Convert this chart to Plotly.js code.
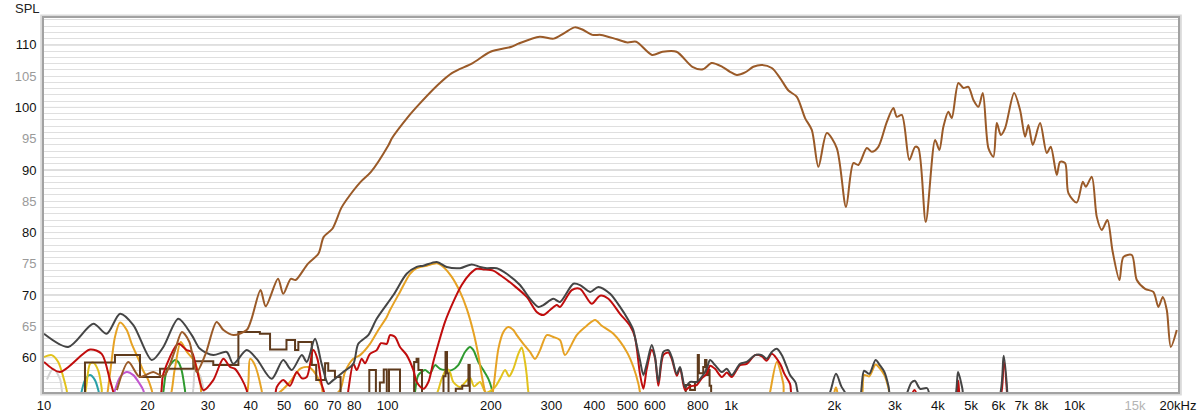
<!DOCTYPE html>
<html>
<head>
<meta charset="utf-8">
<script src="https://cdn.plot.ly/plotly-3.0.1.min.js"></script>
<style>html,body{margin:0;padding:0;background:#fff;}#chart{width:1200px;height:417px;}</style>
</head>
<body>
<div id="chart"></div>
<script>
// ---- data (frequency in Hz, level in dB SPL) ----
const brownF = [16.3,17.6,19.0,20.8,22.3,24.0,25.2,26.5,27.8,29.5,31.8,33.3,35.6,38.9,40.2,42.7,44.2,48.0,49.7,52.3,54.0,58.6,62.9,65.2,69.1,73.3,75.9,83.5,89.5,100.7,103.1,116,121.6,140,153.9,177,199.4,229.6,240.6,277.2,304.6,326.9,350.8,367.6,394.8,418.4,465.1,499.4,529.7,588.8,631.8,694,771.6,828.3,877.9,942.8,993,1039,1099,1161,1229,1314,1389,1469,1554,1642,1718,1796,1900,2031,2161,2270,2348,2484,2569,2684,2841,2969,3037,3141,3304,3433,3510,3688,3926,4040,4150,4291,4390,4589,4746,4907,5075,5248,5405,5612,5803,5937,6099,6277,6667,6939,7177,7337,7556,7935,8299,8524,8875,9074,9384,9594,10148,10566,10780,11222,11603,11999,12460,12900,13508,13873,14674,15175,16041,16958,17538,18063,18553,19058,19837];
const brownDb = [54.8,59.3,56.9,57.7,57.0,61.0,64.1,62.5,57.7,60.5,65.7,64.4,63.6,64.4,66.2,70.8,68.2,72.6,70.2,72.6,72.4,75.0,76.6,79.3,80.6,83.9,85.2,88.1,89.7,94.0,95.1,98.8,100.1,103.6,105.5,107.1,108.9,109.7,110.2,111.3,111.0,111.9,112.8,112.5,111.6,111.6,110.9,110.4,110.5,108.4,108.9,108.9,106.5,106.1,107.1,106.5,105.7,105.2,105.6,106.5,106.8,106.3,104.7,102.7,101.7,98.3,96.4,90.5,95.9,93.5,84.1,91.1,90.8,93.5,92.9,93.7,97.7,99.9,98.5,98.8,91.6,93.7,93.5,81.7,94.8,93.2,96.9,99.3,98.3,103.9,103.1,103.3,101.2,100.1,102.3,93.5,92.1,97.5,95.6,96.7,102.3,99.6,95.3,97.2,94.0,97.5,92.7,93.7,89.2,91.3,91.1,86.3,84.8,88.1,87.3,88.9,82.5,80.4,82.0,77.0,72.4,76.1,76.4,72.4,71.0,70.5,68.1,69.7,67.6,61.7,64.4];

const grayF = [10,11.77,13.92,15.22,16.65,18.2,20.59,22.25,24.6,26.92,28.45,31.1,34.03,35.57,38.91,41.6,46.0,49.7,52.6,56.3,58.2,61.5,64.3,67.2,69.5,74.3,79.5,82.2,87.9,93.0,104.0,113.7,121.6,127.1,139.1,148.7,162.6,175.8,185.9,194.5,207.9,222.3,243.0,259.9,274.8,284.2,303.9,317.8,347.5,363.5,388.7,410.9,444.5,475.2,502.3,519.5,525,543,555.6,568.4,587.7,600.9,614.3,635.1,656.8,672,695,710.5,734.8,759.8,794.5,821.6,849.6,868.7,898.2,939.6,971.6,1005,1062,1111,1175,1229,1270,1314,1359,1405,1453,1485,1542,1579,1883,2020,2094,2143,2200,2354,2439,2525,2635,2710,2795,2874,2929,3158,3349,3428,3552,3723,3850,4440,4580,4711,4800,5957,6218,6395];
const grayDb = [63.8,61.7,65.4,63.8,67.0,65.2,59.6,61.7,66.2,63.6,61.4,60.4,60.9,59.0,61.2,59.8,56.6,59.6,58.0,60.4,59.3,63.0,59.0,55.8,56.4,57.7,59.0,62.2,63.6,66.2,70.0,73.4,74.5,74.7,75.3,74.5,74.3,74.9,74.5,74.3,74.3,73.4,71.6,69.4,68.1,68.4,69.4,68.9,71.8,71.6,70.5,71.3,70.2,68.1,66.0,64.4,63.3,59.6,57.2,59.0,62.0,60.1,56.1,60.9,61.2,60.1,57.4,58.5,55.3,56.1,56.1,56.9,58.2,59.6,58.8,57.7,58.2,57.2,59.0,59.3,60.4,60.4,59.8,60.9,61.4,60.4,58.5,57.2,56.0,54.0,53,57.4,55.4,54.5,53,53,57.9,57.4,59.6,58.8,57.7,55.4,53,53,56.0,56.3,55.0,55.1,53,53,57.7,55.1,53,53,60.3,53];

const redF = [10,11.13,13.61,14.72,15.56,15.91,16.2,21.5,22.25,24.6,26.03,26.92,27.82,29.09,31.1,33.27,34.8,35.97,37.62,38.91,39.5,46.5,47.6,49.7,52.0,54.4,56.3,58.2,60.8,62.5,64.3,65.4,66,76,76.9,79.5,81.4,84.1,86.0,88.9,93.0,95.7,99.5,101.7,105.2,108.7,113.7,118.9,121.6,127.1,131.5,135.9,140.6,147.0,155.4,164.4,173.9,181.8,190.1,203.2,212.6,232.4,254.2,271.8,284.2,297.2,310.9,317.8,343.8,363.5,393,415.6,439.4,475,508,525,543,555.6,568.4,587.7,600.9,614.3,635.1,656.8,672,695,710.5,734.8,759.8,794.5,821.6,849.6,868.7,898.2,939.6,971.6,1005,1062,1111,1175,1229,1270,1314,1389,1430,1485,1525,3250,3420,3560,4480,4580,4700,6000,6218,6380];
const redDb = [59.3,57.7,61.3,60.6,56.4,54.5,53,53,57.4,62.2,61.2,60.9,58.2,54.8,56.4,59.8,58.5,58.2,56.6,54.8,53,53,55.3,56.4,55.5,57.7,56.7,56.9,61.2,59.8,55.8,54.4,53,53,54.8,59.0,58.0,59.8,59.1,60.6,61.2,62.3,62.2,63.6,63.3,61.7,60.4,58.0,56.1,55.0,56.1,59.3,62.2,65.7,68.9,71.6,73.4,74.2,74.1,73.9,73.2,71.6,69.7,67.3,66.8,67.6,68.4,68.1,70.8,71.0,68.6,69.9,69.4,67.0,65.1,63.3,57.4,55.0,58.2,61.2,59.9,55.5,60.4,60.8,59.8,57.1,58.3,54.8,55.4,55.6,56.7,57.4,58.7,58.2,56.9,57.6,56.9,58.8,59.0,60.4,60.2,59.5,60.6,59.0,57.4,55.8,53,53,54.8,53,53,56.3,53,53,59.5,53];

const orangeF = [15.2,15.74,16.09,16.65,17.41,18.0,18.82,19.45,20.12,20.59,21,23.0,24.0,25.0,26.0,27.5,28.5,29.2,38.3,39.8,41.1,43.0,43.5,48.6,52.0,55.6,58.8,60.8,64.3,65.5,72.7,75.2,79.5,83.2,88.9,94.0,99.5,101.7,108.7,116.3,121.6,130.1,139.1,145.4,153.8,162.6,170.1,177.8,183.8,188,192.2,195,200,203.2,210.2,217.4,224.8,232.4,237.8,248.5,259.9,268.8,278,290.7,303.9,317.8,328.6,355.4,380.1,401.9,420.3,454.5,497.3,519.7,537.4,543,550,1280,1299,1359,1420,1440,1950,2020,2080,2380,2439,2525,2635,2710,2795,2874,2910];
const orangeDb = [53,59.6,63.3,65.6,64.4,62.2,59.8,57.9,56.4,54.8,53,53,58,62.5,61.0,59.3,56,53,53,59.8,58.8,54.8,53,54.5,56.1,58.2,58.5,57.9,55.5,53,54.8,57.7,59.8,60.4,62.2,64.4,66.5,67.6,70.5,73.4,74.3,74.7,75.1,74.5,72.9,70.5,67.8,64.1,60.4,57.2,54.5,53,53,55.0,61.4,64.1,64.9,64.4,63.6,62.2,60.9,59.8,61.2,63.6,63.3,62.8,60.4,63.6,65.1,66.0,65.1,63.8,60.9,58.5,55.8,54.5,53,53,54.5,59.3,55.8,53,53,55.2,53,53,57.2,57.0,58.9,58.3,57.2,55.0,53];

const yellowF = [10,10.53,11.0,11.38,11.64,11.8,13.0,13.25,13.61,13.92,14.39,14.72,14.9,134,143.8,148.7,152.1,155.4,162.6,169.3,173.9,178.6,185.9,193.5,205.5,212.6,219.9,225.9,232.4,240.3,245.8,251.3,254.2,257,260];
const yellowDb = [60.1,60.4,59.3,56.9,54.8,53,53,55.1,59.0,59.2,57.9,55.1,53,53,56.6,58.2,57.6,56.1,55.3,56.2,56.8,55.4,56.1,54.4,55.3,56.6,58.0,57.0,58.2,60.6,61.6,59.3,57.2,54.5,53];

const tealF = [12.7,13.16,13.61,14.07,14.39,14.6];
const tealDb = [53,56.4,57.2,56.4,54.8,53];

const purpleF = [15.8,16.09,16.65,17.41,18.2,19.0,19.45,19.8];
const purpleDb = [53,54.8,56.9,57.7,57.2,55.8,54.8,53];

const greenF = [22,22.25,22.76,24.06,24.6,25.17,25.73,26,119,120.2,122.9,128.6,133,137.5,142.2,147,153.8,160.7,168.1,173.9,177.8,183.8,190.1,196.6,201.1,204];
const greenDb = [53,54.5,57.9,59.6,59.3,57.9,54.8,53,53,54.5,57.2,58.0,57.5,58.8,58.2,58.0,58.0,58.8,60.9,61.7,61.2,59.3,58.0,56.6,55.0,53];

const lgrayF = [10.2,10.64,11.13,11.6,26.5,27.5,28.5,29.5];
const lgrayDb = [56.5,58.2,56.6,53,53,58.0,57.0,53];

const stepF = [13.0,13.16,16.09,19.03,21.76,27.21,31.1,36.8,42.5,45.5,50.8,53.8,55.0,60.2,62.0,65.8,67.2,70.3,73,86,88.5,92.5,95,97.5,99.5,101,108.7,118,119.5,121.5,123,126,145.5,147.5,149,150.5,158,165,172,173.5,720,738,760,785,800,806,830,840,848,856,866,875];
const stepDb = [53,59.2,60.4,56.9,58.2,59.4,58.8,64.1,63.8,61.3,62.8,61.2,62.5,58.8,56.4,59.1,57.9,56.9,53,53,58.0,53,56,58.1,53.5,58.1,53,53,59.3,59.8,58,53,57,60.9,57.5,53,55,55.5,58.8,53,53,55.6,54.8,56.1,60.4,57.5,58.5,59.6,57.2,58.0,55.5,53];

// ---- axis labels ----
const xTickVals = [10,20,30,40,50,60,70,80,100,200,300,400,500,600,800,1000,2000,3000,4000,5000,6000,7000,8000,10000,15000,20000];
const xTickText = ['10','20','30','40','50','60','70','80','100','200','300','400','500','600','800','1k','2k','3k','4k','5k','6k','7k','8k','10k','<span style="color:#b4b4b4">15k</span>','20kHz'];
const yTickVals = [60,65,70,75,80,85,90,95,100,105,110];
const yTickText = yTickVals.map(v => v % 10 === 0 ? String(v) : '<span style="color:#9a9a9a">' + v + '</span>');

// gridline positions
const gridDecade = [10,100,1000,10000];
const gridMain = [20,30,40,50,60,70,80,90,200,300,400,500,600,700,800,900,2000,3000,4000,5000,6000,7000,8000,9000];
const gridFine = [11000,12000,13000,14000,15000,16000,17000,18000,19000];
const gridY10 = [60,70,80,90,100,110];

function tr(x, y, color, shape) {
  const s = shape || 'spline';
  const line = {color: color, width: 2, shape: s};
  if (s === 'spline') line.smoothing = 0.8;
  return {x: x, y: y, type: 'scatter', mode: 'lines', hoverinfo: 'skip', line: line};
}

const data = [
  tr(lgrayF, lgrayDb, '#d2d2d2'),
  tr(purpleF, purpleDb, '#c155d0'),
  tr(tealF, tealDb, '#2aa0a8'),
  tr(greenF, greenDb, '#2f9a2f'),
  tr(yellowF, yellowDb, '#e2c21c'),
  tr(orangeF, orangeDb, '#e6a224'),
  tr(stepF, stepDb, '#5e3a1c', 'hv'),
  tr(redF, redDb, '#c00d0d'),
  tr(grayF, grayDb, '#454545'),
  tr(brownF, brownDb, '#9a5a28')
];

const shapes = [];
gridMain.forEach(v => shapes.push({type:'line', xref:'x', yref:'paper', x0:Math.log10(v), x1:Math.log10(v), y0:0, y1:1, layer:'below', line:{color:'#bdbdbd', width:1}}));
gridFine.forEach(v => shapes.push({type:'line', xref:'x', yref:'paper', x0:Math.log10(v), x1:Math.log10(v), y0:0, y1:1, layer:'below', line:{color:'#d8d8d8', width:1}}));
gridDecade.forEach(v => shapes.push({type:'line', xref:'x', yref:'paper', x0:Math.log10(v), x1:Math.log10(v), y0:0, y1:1, layer:'below', line:{color:'#8e8e8e', width:1}}));
gridY10.forEach(v => shapes.push({type:'line', xref:'paper', yref:'y', x0:0, x1:1, y0:v, y1:v, layer:'below', line:{color:'#b6b6b6', width:1}}));
// frame shadow
shapes.push({type:'rect', xref:'paper', yref:'paper', x0:-0.0025, x1:1.0025, y0:-0.007, y1:1.007, layer:'below', line:{color:'#dadada', width:2}});

const font = {family: 'Liberation Sans, Arial, sans-serif', size: 13, color: '#111'};

const layout = {
  width: 1200, height: 417,
  margin: {l: 44, r: 22, t: 18, b: 25, pad: 0},
  paper_bgcolor: '#ffffff', plot_bgcolor: '#ffffff',
  showlegend: false,
  font: font,
  xaxis: {
    type: 'log', range: [1, Math.log10(20000)],
    tickmode: 'array', tickvals: xTickVals, ticktext: xTickText,
    showgrid: false, zeroline: false,
    showline: true, mirror: true, linecolor: '#a2a2a2', linewidth: 2,
    ticks: '', 
    tickfont: font
  },
  yaxis: {
    range: [54.5, 114.3],
    tickmode: 'array', tickvals: yTickVals, ticktext: yTickText,
    showgrid: true, gridcolor: '#dfdfdf', gridwidth: 1,
    minor: {dtick: 1, showgrid: true, gridcolor: '#dfdfdf', gridwidth: 1, ticks: ''},
    zeroline: false,
    showline: true, mirror: true, linecolor: '#a2a2a2', linewidth: 2,
    ticks: 'outside', ticklen: 3, tickcolor: 'rgba(0,0,0,0)',
    tickfont: font
  },
  shapes: shapes,
  annotations: [{
    text: 'SPL', xref: 'paper', yref: 'paper', x: -0.0145, y: 1.025,
    xanchor: 'center', yanchor: 'middle', showarrow: false,
    font: {family: 'Liberation Sans, Arial, sans-serif', size: 13, color: '#222'}
  }]
};

Plotly.newPlot('chart', data, layout, {staticPlot: true, displayModeBar: false});
</script>
</body>
</html>
